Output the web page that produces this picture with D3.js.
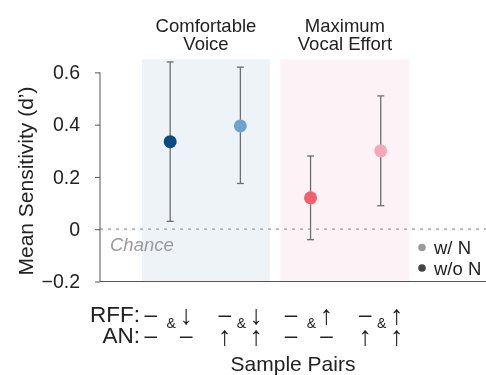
<!DOCTYPE html>
<html>
<head>
<meta charset="utf-8">
<script src="https://cdn.jsdelivr.net/npm/d3@7"></script>
<style>
  body { margin: 0; background: #fff; }
  svg { font-family: "Liberation Sans", Arial, sans-serif; will-change: transform; }
</style>
</head>
<body>
<div id="chart"></div>
<script>
// data
let pairIdx = [0, 1, 2, 3];
let means = [0.335, 0.395, 0.12, 0.30];
let lowers = [0.03, 0.175, -0.04, 0.09];
let uppers = [0.64, 0.62, 0.28, 0.51];
let dotColors = ["#0c4a83", "#6fa3cb", "#f2606c", "#f5a8b8"];
let rffLeft = ["\u2013", "\u2013", "\u2013", "\u2013"];
let rffRight = ["\u2193", "\u2193", "\u2191", "\u2191"];
let anLeft = ["\u2013", "\u2191", "\u2013", "\u2191"];
let anRight = ["\u2013", "\u2191", "\u2013", "\u2191"];
let yTicks = [-0.2, 0, 0.2, 0.4, 0.6];
let groups = [
    {name: ["Comfortable", "Voice"], from: -0.4, to: 1.42, fill: "#eef3f8"},
    {name: ["Maximum", "Vocal Effort"], from: 1.57, to: 3.41, fill: "#fdf3f6"}
];
let legendItems = [{label: "w/ N", color: "#9a9a9a"}, {label: "w/o N", color: "#444444"}];

function gen_chart() {
    let width = 486, height = 375;
    let svg = d3.select("#chart").append("svg")
        .attr("width", width)
        .attr("height", height);

    let x = d3.scaleLinear().domain([-1, 4.5]).range([100, 486]);
    let y = d3.scaleLinear().domain([-0.2, 0.65]).range([281.5, 59.3]);

    // shaded condition blocks
    svg.selectAll("rect.grp")
        .data(groups)
        .enter().append("rect")
        .attr("class", "grp")
        .attr("x", d => x(d.from))
        .attr("width", d => x(d.to) - x(d.from))
        .attr("y", y(0.65))
        .attr("height", y(-0.2) - y(0.65))
        .attr("fill", d => d.fill);

    // group titles
    groups.forEach(function(g) {
        let cx = (x(g.from) + x(g.to)) / 2;
        g.name.forEach(function(line, i) {
            svg.append("text")
                .attr("x", cx)
                .attr("y", 31.5 + i * 18.5)
                .attr("text-anchor", "middle")
                .attr("font-size", 18.5)
                .attr("fill", "#222")
                .text(line);
        });
    });

    // chance line
    svg.append("line")
        .attr("x1", x(-1)).attr("x2", x(4.5))
        .attr("y1", y(0)).attr("y2", y(0))
        .attr("stroke", "#999")
        .attr("stroke-width", 1.3)
        .attr("stroke-dasharray", "3,5");
    svg.append("text")
        .attr("x", 110).attr("y", 250.5)
        .attr("font-size", 18.5)
        .attr("font-style", "italic")
        .attr("fill", "#9a9a9a")
        .text("Chance");

    // y axis
    let yAxis = d3.axisLeft(y).tickValues(yTicks).tickSize(5).tickPadding(15)
        .tickFormat(d => d === 0 ? "0" : d3.format(".1f")(d).replace("-", "\u2212"));
    let gy = svg.append("g").attr("transform", "translate(100,0)").call(yAxis);
    gy.select(".domain").attr("d", "M0," + y(0.6) + "V" + y(-0.2)).attr("stroke", "#555");
    gy.selectAll(".tick line").attr("stroke", "#555");
    gy.selectAll("text").attr("font-size", 19.5).attr("fill", "#222")
        .attr("font-family", "Liberation Sans, Arial, sans-serif");

    // bottom spine
    svg.append("line")
        .attr("x1", x(-1)).attr("x2", x(4.5))
        .attr("y1", y(-0.2)).attr("y2", y(-0.2))
        .attr("stroke", "#555");

    // error bars
    let eb = svg.selectAll("g.eb").data(pairIdx).enter().append("g").attr("class", "eb");
    eb.append("line")
        .attr("x1", d => x(d)).attr("x2", d => x(d))
        .attr("y1", d => y(uppers[d])).attr("y2", d => y(lowers[d]))
        .attr("stroke", "#6e6e6e").attr("stroke-width", 1.3);
    eb.append("line")
        .attr("x1", d => x(d) - 3.5).attr("x2", d => x(d) + 3.5)
        .attr("y1", d => y(uppers[d])).attr("y2", d => y(uppers[d]))
        .attr("stroke", "#6e6e6e").attr("stroke-width", 1.3);
    eb.append("line")
        .attr("x1", d => x(d) - 3.5).attr("x2", d => x(d) + 3.5)
        .attr("y1", d => y(lowers[d])).attr("y2", d => y(lowers[d]))
        .attr("stroke", "#6e6e6e").attr("stroke-width", 1.3);

    // mean points
    svg.selectAll("circle.pt").data(pairIdx).enter().append("circle")
        .attr("class", "pt")
        .attr("cx", d => x(d))
        .attr("cy", d => y(means[d]))
        .attr("r", 6.5)
        .attr("fill", (d, i) => dotColors[i]);

    // legend
    legendItems.forEach(function(item, i) {
        svg.append("circle")
            .attr("cx", 422).attr("cy", 247.5 + i * 20.5)
            .attr("r", 3.8).attr("fill", item.color);
        svg.append("text")
            .attr("x", 434).attr("y", 254 + i * 20.5)
            .attr("font-size", 18.5).attr("fill", "#222")
            .text(item.label);
    });

    // x tick labels (RFF / AN pairs)
    let rowRff = 322, rowAn = 343;
    let isArrow = s => s !== "\u2013";
    svg.append("text").attr("x", 140).attr("y", rowRff).attr("text-anchor", "end")
        .attr("font-size", 22.5).attr("fill", "#222").text("RFF:");
    svg.append("text").attr("x", 140).attr("y", rowAn).attr("text-anchor", "end")
        .attr("font-size", 22.5).attr("fill", "#222").text("AN:");
    let xl = svg.selectAll("g.xl").data(pairIdx).enter().append("g")
        .attr("class", "xl")
        .attr("transform", d => "translate(" + x(d) + ",0)")
        .attr("fill", "#222").attr("text-anchor", "middle");
    let leftX = d => (isArrow(anLeft[d]) ? -15.5 : -19.5);
    // arrows drawn a bit larger so they reach cap height like the original glyphs
    let sym = function(sel, accessor, xPos, rowY) {
        sel.append("text")
            .attr("x", xPos)
            .attr("y", d => isArrow(accessor(d)) ? rowY + 1.5 : rowY)
            .attr("font-size", d => isArrow(accessor(d)) ? 27 : 22.5)
            .text(accessor);
    };
    sym(xl, d => rffLeft[d], leftX, rowRff);
    sym(xl, d => rffRight[d], 16, rowRff);
    sym(xl, d => anLeft[d], leftX, rowAn);
    sym(xl, d => anRight[d], 16, rowAn);
    xl.append("text").attr("x", 1).attr("y", 328).attr("font-size", 14).text("&");

    // axis titles
    svg.append("text")
        .attr("x", (x(-1) + x(4.5)) / 2).attr("y", 371)
        .attr("text-anchor", "middle").attr("font-size", 21).attr("fill", "#222")
        .text("Sample Pairs");
    svg.append("text")
        .attr("transform", "translate(33,181) rotate(-90)")
        .attr("text-anchor", "middle").attr("font-size", 21).attr("fill", "#222")
        .text("Mean Sensitivity (d\u2019)");
}

gen_chart();
</script>
</body>
</html>
